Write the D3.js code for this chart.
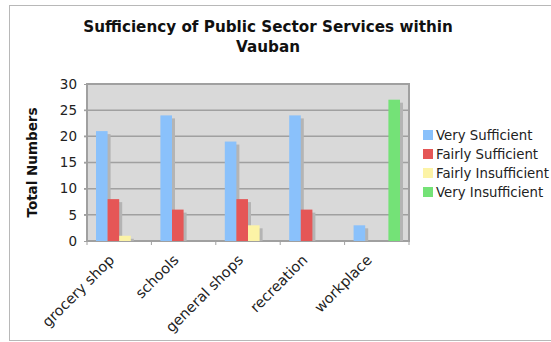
<!DOCTYPE html>
<html><head><meta charset="utf-8">
<script src="https://cdn.jsdelivr.net/npm/d3@7"></script>
<style>body{margin:0;background:#fff}svg{display:block;font-family:"DejaVu Sans",Verdana,sans-serif}</style>
</head><body>
<script>
const categories = ["grocery shop","schools","general shops","recreation","workplace"];
const seriesNames = ["Very Sufficient","Fairly Sufficient","Fairly Insufficient","Very Insufficient"];
const verySufficient = [21,24,19,24,3];
const fairlySufficient = [8,6,8,6,0];
const fairlyInsufficient = [1,0,3,0,0];
const veryInsufficient = [0,0,0,0,27];
const colors = ["#8ac1fb","#e55656","#fcf3a6","#74e277"];
const yTicks = [0,5,10,15,20,25,30];
const seriesValues = [verySufficient, fairlySufficient, fairlyInsufficient, veryInsufficient];

const W = 551, H = 342;
const svg = d3.select("body").append("svg").attr("width", W).attr("height", H);
// outer frame
svg.append("rect").attr("x",9.5).attr("y",5.5).attr("width",W).attr("height",335)
  .attr("fill","#fff").attr("stroke","#b8b8b8");

const L = 87, R = 409, T = 84, B = 241;
const x0 = d3.scaleBand().domain(categories).range([L,R]).paddingInner(0).paddingOuter(0);
const x1 = d3.scaleBand().domain(seriesNames).range([9, x0.bandwidth()-9]);
const y = d3.scaleLinear().domain([0,30]).range([B,T]);

svg.append("rect").attr("x",L).attr("y",T).attr("width",R-L).attr("height",B-T)
  .attr("fill","#d9d9d9").attr("stroke","#a0a0a0").attr("stroke-width",2);

// gridlines
svg.append("g").selectAll("line").data(yTicks.slice(1,-1)).join("line")
  .attr("x1",L-3).attr("x2",R).attr("y1",d=>y(d)).attr("y2",d=>y(d))
  .attr("stroke","#a0a0a0").attr("stroke-width",1.5);

// y axis
const ya = svg.append("g").attr("transform",`translate(${L},0)`)
  .call(d3.axisLeft(y).tickValues(yTicks).tickSize(3).tickPadding(7));
ya.select(".domain").remove();
ya.selectAll("line").attr("stroke","#a0a0a0");
ya.selectAll("text").attr("font-size",13.5).attr("fill","#222").attr("font-family","DejaVu Sans, sans-serif");

// x axis ticks at group boundaries
const xt = svg.append("g");
xt.append("line").attr("x1",L).attr("x2",R).attr("y1",B).attr("y2",B).attr("stroke","#a0a0a0").attr("stroke-width",2);
xt.selectAll("line.t").data(d3.range(categories.length+1)).join("line").attr("class","t")
  .attr("x1",i=>L+i*x0.bandwidth()).attr("x2",i=>L+i*x0.bandwidth())
  .attr("y1",B).attr("y2",B+4).attr("stroke","#a0a0a0");

// bars
const data = [];
categories.forEach((c,ci)=>seriesNames.forEach((s,si)=>data.push({c,s,si,v:seriesValues[si][ci]})));
const bars = svg.append("g");
bars.selectAll("rect.sh").data(data.filter(d=>d.v>0)).join("rect").attr("class","sh")
  .attr("x",d=>x0(d.c)+x1(d.s)+3).attr("y",d=>y(d.v)+3)
  .attr("width",x1.bandwidth()).attr("height",d=>B-y(d.v)-3).attr("fill","#b4b4b4");
bars.selectAll("rect.b").data(data.filter(d=>d.v>0)).join("rect").attr("class","b")
  .attr("x",d=>x0(d.c)+x1(d.s)).attr("y",d=>y(d.v))
  .attr("width",x1.bandwidth()).attr("height",d=>B-y(d.v)).attr("fill",d=>colors[d.si]);

// x labels
svg.append("g").selectAll("text").data(categories).join("text")
  .attr("transform",d=>`translate(${x0(d)+x0.bandwidth()/2-4},${B+20}) rotate(-45)`)
  .attr("text-anchor","end").attr("font-size",14.5).attr("fill","#222").text(d=>d);

// y title
svg.append("text").attr("transform",`translate(37,${(T+B)/2}) rotate(-90)`)
  .attr("text-anchor","middle").attr("font-size",13.5).attr("font-weight","bold").attr("fill","#111")
  .text("Total Numbers");

// title
const title = svg.append("text").attr("text-anchor","middle").attr("font-size",15.2).attr("font-weight","bold").attr("fill","#111");
title.append("tspan").attr("x",268).attr("y",32).text("Sufficiency of Public Sector Services within");
title.append("tspan").attr("x",268).attr("y",52).text("Vauban");

// legend
const lg = svg.append("g").selectAll("g").data(seriesNames).join("g")
  .attr("transform",(d,i)=>`translate(423,${130+i*19})`);
lg.append("rect").attr("width",10).attr("height",10).attr("fill",(d,i)=>colors[i]);
lg.append("text").attr("x",13).attr("y",10).attr("font-size",13.3).attr("fill","#222").text(d=>d);
</script>
</body></html>
